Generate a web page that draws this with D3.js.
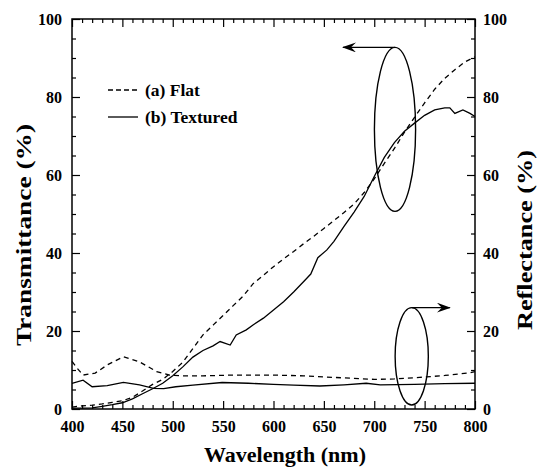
<!DOCTYPE html>
<html>
<head>
<meta charset="utf-8">
<script src="https://cdn.jsdelivr.net/npm/d3@7"></script>
<style>
  body { margin: 0; background: #fff; }
  svg text { font-family: "Liberation Serif", "Times New Roman", serif; font-weight: bold; fill: #000; }
</style>
</head>
<body>
<div id="chart"></div>
<script>
// transmittance, flat sample (dashed)
const flatTWl  = [400,410,420,430,440,450,460,470,480,490,500,510,520,530,540,550,560,570,580,590,600,610,620,630,640,650,660,670,680,690,700,710,720,730,740,750,760,770,780,790,800];
const flatT    = [0.5,0.8,1.0,1.3,1.7,2.1,3.0,4.6,6.3,7.6,9.6,12.0,15.5,19.0,21.5,24.0,26.5,29.0,32.2,34.3,36.5,38.5,40.4,42.4,44.3,46.3,48.3,50.4,52.6,55.5,59.0,63.0,66.8,71.0,74.8,78.5,82.0,84.8,87.0,89.0,90.3];
// transmittance, textured sample (solid)
const texTWl   = [400,410,420,430,440,450,460,470,480,490,500,510,520,530,540,547,557,563,573,580,590,600,610,620,630,637,644,653,660,670,680,690,700,710,720,730,740,750,760,770,775,780,788,795,800];
const texT     = [0.2,0.2,0.3,0.7,1.1,1.6,2.6,3.9,5.2,6.6,8.5,10.8,13.3,15.0,16.2,17.3,16.4,19.0,20.3,21.6,23.3,25.4,27.5,30.0,32.7,34.6,38.8,40.8,43.0,46.8,50.5,54.5,59.6,64.5,68.3,71.2,73.3,75.3,76.7,77.2,77.2,75.8,76.7,75.8,75.0];
// reflectance, flat sample (dashed)
const flatRWl  = [400,405,411,423,435,451,467,484,497,510,530,560,600,630,660,700,720,745,770,795,800];
const flatR    = [12.2,10.5,8.7,9.2,11.3,13.4,12.1,9.6,8.7,8.5,8.5,8.7,8.7,8.5,8.1,7.6,7.7,8.1,8.6,9.3,9.6];
// reflectance, textured sample (solid)
const texRWl   = [400,411,420,435,451,467,481,491,503,520,549,575,600,620,646,670,692,706,740,770,800];
const texR     = [6.6,7.4,5.7,6.0,6.8,6.2,5.3,5.2,5.7,6.1,6.8,6.6,6.3,6.1,5.9,6.2,6.6,6.2,6.3,6.5,6.6];

const xTicks = [400,450,500,550,600,650,700,750,800];
const yTicks = [0,20,40,60,80,100];
const legendLabels = ['(a) Flat', '(b) Textured'];

const W = 538, H = 467;
const m = { left: 72, right: 63, top: 19, bottom: 58 };

const svg = d3.select('#chart').append('svg')
  .attr('width', W).attr('height', H);

const x = d3.scaleLinear().domain([400, 800]).range([m.left, W - m.right]);
const yL = d3.scaleLinear().domain([0, 100]).range([H - m.bottom, m.top]);
const yR = d3.scaleLinear().domain([0, 100]).range([H - m.bottom, m.top]);

const x0 = m.left, x1 = W - m.right, y0 = H - m.bottom, y1 = m.top;

// ticks pointing inward, serif labels
function inTicks(g, axis) {
  g.call(axis);
  g.attr('font-family', null).attr('font-size', 16);
  g.select('.domain').remove();
  g.selectAll('line').attr('stroke', '#000').attr('stroke-width', 1.2);
}

const minorX = d3.range(400, 801, 10).filter(v => v % 50);
const minorY = d3.range(0, 101, 5).filter(v => v % 20);

// bottom
svg.append('g').attr('transform', `translate(0,${y0})`)
  .call(g => inTicks(g, d3.axisBottom(x).tickValues(xTicks).tickSize(-8).tickPadding(12)));
svg.append('g').attr('transform', `translate(0,${y0})`)
  .call(g => inTicks(g, d3.axisBottom(x).tickValues(minorX).tickSize(-4).tickFormat('')));
// top
svg.append('g').attr('transform', `translate(0,${y1})`)
  .call(g => inTicks(g, d3.axisTop(x).tickValues(xTicks).tickSize(-8).tickFormat('')));
svg.append('g').attr('transform', `translate(0,${y1})`)
  .call(g => inTicks(g, d3.axisTop(x).tickValues(minorX).tickSize(-4).tickFormat('')));
// left
svg.append('g').attr('transform', `translate(${x0},0)`)
  .call(g => inTicks(g, d3.axisLeft(yL).tickValues(yTicks).tickSize(-8).tickPadding(10)));
svg.append('g').attr('transform', `translate(${x0},0)`)
  .call(g => inTicks(g, d3.axisLeft(yL).tickValues(minorY).tickSize(-4).tickFormat('')));
// right
svg.append('g').attr('transform', `translate(${x1},0)`)
  .call(g => inTicks(g, d3.axisRight(yR).tickValues(yTicks).tickSize(-8).tickPadding(8)));
svg.append('g').attr('transform', `translate(${x1},0)`)
  .call(g => inTicks(g, d3.axisRight(yR).tickValues(minorY).tickSize(-4).tickFormat('')));

// frame
svg.append('rect')
  .attr('x', x0).attr('y', y1).attr('width', x1 - x0).attr('height', y0 - y1)
  .attr('fill', 'none').attr('stroke', '#000').attr('stroke-width', 1.5);

// curves
const lineL = d3.line().x(d => x(d[0])).y(d => yL(d[1]));
const lineR = d3.line().x(d => x(d[0])).y(d => yR(d[1]));
const curves = [
  { wl: flatTWl, v: flatT, gen: lineL, dash: '5,4' },
  { wl: texTWl,  v: texT,  gen: lineL, dash: null },
  { wl: flatRWl, v: flatR, gen: lineR, dash: '5,4' },
  { wl: texRWl,  v: texR,  gen: lineR, dash: null }
];
svg.append('g').selectAll('path').data(curves).join('path')
  .attr('d', c => c.gen(d3.zip(c.wl, c.v)))
  .attr('fill', 'none').attr('stroke', '#000').attr('stroke-width', 1.3)
  .attr('stroke-dasharray', c => c.dash);

// annotations: ellipses with arrows to the axis they belong to
svg.append('defs').append('marker')
  .attr('id', 'arr').attr('viewBox', '0 0 14 10').attr('refX', 13).attr('refY', 5)
  .attr('markerWidth', 14).attr('markerHeight', 10).attr('markerUnits', 'userSpaceOnUse')
  .attr('orient', 'auto')
  .append('path').attr('d', 'M0,0 L14,5 L0,10 L5,5 Z').attr('fill', '#000');

const notes = [
  { cx: 720.6, cy: 71.7, rx: 20.6, ry: 82, to: 669, scale: yL },
  { cx: 737.2, cy: 13.5, rx: 16.6, ry: 48.7, to: 775, scale: yR }
];
const ann = svg.append('g');
notes.forEach(n => {
  const cx = x(n.cx), cy = n.scale(n.cy);
  ann.append('ellipse')
    .attr('cx', cx).attr('cy', cy).attr('rx', n.rx).attr('ry', n.ry)
    .attr('fill', 'none').attr('stroke', '#000').attr('stroke-width', 1.4);
  ann.append('line')
    .attr('x1', cx).attr('y1', cy - n.ry).attr('x2', x(n.to)).attr('y2', cy - n.ry)
    .attr('stroke', '#000').attr('stroke-width', 1.4).attr('marker-end', 'url(#arr)');
});

// legend
const leg = svg.append('g');
legendLabels.forEach((lab, i) => {
  const yy = 90 + i * 27;
  leg.append('line')
    .attr('x1', 108).attr('x2', 138).attr('y1', yy).attr('y2', yy)
    .attr('stroke', '#000').attr('stroke-width', 1.3)
    .attr('stroke-dasharray', i === 0 ? '5,3' : null);
  leg.append('text')
    .attr('x', 145).attr('y', yy).attr('dy', '0.33em')
    .attr('font-size', 17.5).text(lab);
});

// axis titles
svg.append('text')
  .attr('x', 285).attr('y', 454).attr('dy', '0.35em')
  .attr('text-anchor', 'middle').attr('font-size', 22).text('Wavelength (nm)');
svg.append('text')
  .attr('transform', 'translate(23,235) rotate(-90)')
  .attr('dy', '0.35em').attr('text-anchor', 'middle').attr('font-size', 22)
  .attr('textLength', 222).attr('lengthAdjust', 'spacingAndGlyphs')
  .text('Transmittance (%)');
svg.append('text')
  .attr('transform', 'translate(525,240) rotate(-90)')
  .attr('dy', '0.35em').attr('text-anchor', 'middle').attr('font-size', 21)
  .attr('textLength', 180).attr('lengthAdjust', 'spacingAndGlyphs')
  .text('Reflectance (%)');
</script>
</body>
</html>
